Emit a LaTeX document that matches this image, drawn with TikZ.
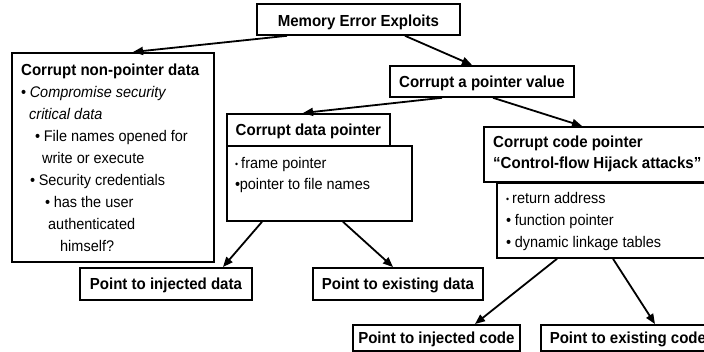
\documentclass[tikz,border=0pt]{standalone}
\usepackage{fontspec}
\usepackage{graphicx}
\setmainfont{Liberation Sans}[FakeStretch=0.94]
\usetikzlibrary{arrows.meta}

% left-aligned block of lines whose baseline is the first line
\newcommand{\textlines}[1]{\begin{tabular}[t]{@{}l@{}}#1\end{tabular}}
\newcommand{\smallbul}{\raisebox{0.9pt}{\scalebox{0.6}{\textbullet}}}
\newcommand{\bul}{\textbullet\hspace{3.5pt}}

\begin{document}
\begin{tikzpicture}[x=1pt,y=-1pt,
  box/.style={draw, line width=1.8pt, rectangle, inner sep=0pt, anchor=north west},
  titlebox/.style={box, font=\fontsize{16}{19}\selectfont\bfseries,
    text height=12pt, text depth=0.5pt, align=center},
  blk/.style={inner sep=0pt, anchor=base west},
  bodyfont/.style={font=\fontsize{15.4}{#1}\selectfont},
  arr/.style={line width=1.8pt, -{Triangle[length=10pt,width=8pt]}}]

\fill[white] (0,0) rectangle (704,351);
\useasboundingbox (0,0) rectangle (704,351);

% boxes
\node[titlebox, text height=15pt, text depth=0pt, minimum width=203pt, minimum height=31pt] (top) at (256,3) {Memory Error Exploits};
\node[titlebox, minimum width=184pt, minimum height=31pt] (pv) at (389,65) {Corrupt a pointer value};
\node[box, minimum width=202pt, minimum height=209pt] (np) at (11,52) {};
\node[box, minimum width=185pt, minimum height=75pt] (db) at (226,145) {};
\node[titlebox, minimum width=163pt, minimum height=32pt] (dh) at (226,113) {Corrupt data pointer};
\node[box, minimum width=228pt, minimum height=55pt] (ch) at (483,126) {};
\node[box, minimum width=220pt, minimum height=75pt] (cb) at (496,182) {};
\node[titlebox, minimum width=172pt, minimum height=32pt] (id) at (79,267) {Point to injected data};
\node[titlebox, minimum width=170pt, minimum height=32pt] (ed) at (312,267) {Point to existing data};
\node[titlebox, minimum width=167pt, minimum height=26pt] (ic) at (352,324) {Point to injected code};
\node[titlebox, minimum width=174pt, minimum height=26pt] (ec) at (540,324) {Point to existing code};

% texts inside the larger boxes
\node[blk, bodyfont=22] (np-text) at (21,75) {\textlines{%
  {\fontsize{16}{22}\selectfont\bfseries Corrupt non-pointer data}\\
  \hspace*{0pt}\bul\textit{Compromise security}\\
  \hspace*{8pt}\textit{critical data}\\
  \hspace*{14pt}\bul File names opened for\\
  \hspace*{21pt}write or execute\\
  \hspace*{9pt}\bul Security credentials\\
  \hspace*{24pt}\bul has the user\\
  \hspace*{27pt}authenticated\\
  \hspace*{39pt}himself?}};

\node[blk, bodyfont=21] (db-text) at (235,168) {\textlines{%
  \smallbul\hspace{3pt}frame pointer\\
  \textbullet\kern-0.5pt pointer to file names}};

\node[blk, font=\fontsize{16}{21}\selectfont\bfseries] (ch-text) at (493,147) {\textlines{%
  Corrupt code pointer\\
  “Control-flow Hijack attacks”}};

\node[blk, bodyfont=22] (cb-text) at (506,203) {\textlines{%
  \smallbul\hspace{3pt}return address\\
  \bul function pointer\\
  \bul dynamic linkage tables}};

% connectors
\draw[arr] ([xshift=31pt]top.south west) -- ([xshift=122pt]np.north west);
\draw[arr] ([xshift=149pt]top.south west) -- ([xshift=83pt]pv.north west);
\draw[arr] ([xshift=53pt]pv.south west) -- ([xshift=77pt]dh.north west);
\draw[arr] ([xshift=104pt]pv.south west) -- ([xshift=99pt]ch.north west);
\draw[arr] ([xshift=36pt]db.south west) -- ([xshift=144pt]id.north west);
\draw[arr] ([xshift=117pt]db.south west) -- ([xshift=81pt]ed.north west);
\draw[arr] ([xshift=61pt]cb.south west) -- ([xshift=123pt]ic.north west);
\draw[arr] ([xshift=117pt]cb.south west) -- ([xshift=115pt]ec.north west);
\end{tikzpicture}
\end{document}
